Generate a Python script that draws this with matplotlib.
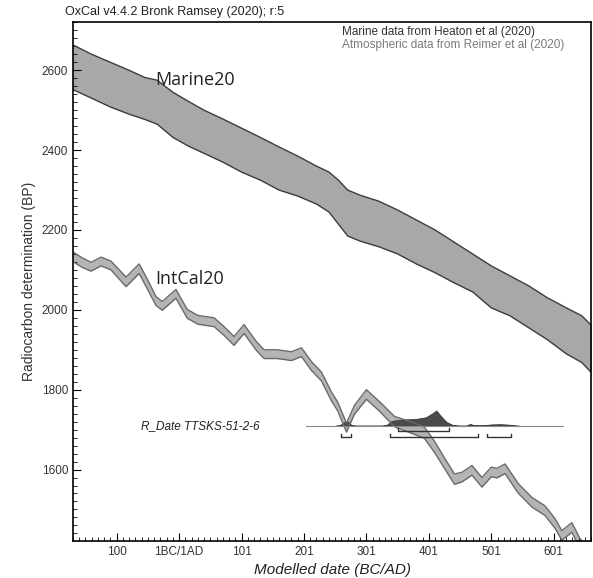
import numpy as np
import matplotlib
matplotlib.use('Agg')
import matplotlib.pyplot as plt
from matplotlib.ticker import MultipleLocator, FixedLocator

plt.rcParams['font.family'] = ['Liberation Sans', 'DejaVu Sans']

# Marine20 envelope (calendar year, BP upper / lower)
marine_year = [-172, -140, -110, -80, -55, -35, -10, 15, 40, 70, 100, 130, 160, 190,
               220, 240, 255, 270, 290, 320, 350, 380, 410, 440, 470, 500, 530, 560,
               590, 620, 645, 662]
marine_hi = [2665, 2640, 2620, 2600, 2582, 2575, 2545, 2522, 2500, 2478, 2455, 2432,
             2408, 2385, 2360, 2345, 2325, 2300, 2287, 2272, 2250, 2225, 2200, 2170,
             2140, 2110, 2085, 2060, 2030, 2005, 1985, 1958]
marine_lo = [2553, 2530, 2508, 2490, 2477, 2465, 2432, 2410, 2392, 2370, 2345, 2325,
             2300, 2285, 2265, 2245, 2215, 2185, 2172, 2158, 2140, 2115, 2093, 2068,
             2045, 2005, 1985, 1955, 1925, 1890, 1868, 1840]

# IntCal20 curve (calendar year, BP mean, half width)
intcal_year = [-172, -155, -141, -125, -109, -85, -64, -50, -37, -27, -5, 13, 30, 56,
               72, 88, 104, 124, 136, 157, 180, 196, 212, 228, 244, 254, 268, 281,
               300, 321, 345, 372, 393, 409, 425, 441, 453, 469, 485, 500, 509, 522,
               543, 565, 586, 602, 613, 629, 642, 655]
intcal_bp = [2135, 2118, 2108, 2121, 2111, 2070, 2103, 2062, 2022, 2010, 2040, 1990,
             1975, 1969, 1947, 1922, 1952, 1909, 1889, 1889, 1884, 1894, 1859, 1833,
             1783, 1758, 1705, 1750, 1788, 1758, 1720, 1705, 1692, 1657, 1616, 1576,
             1581, 1598, 1568, 1594, 1591, 1602, 1553, 1518, 1497, 1465, 1435, 1455,
             1415, 1390]
intcal_err = [12, 12, 11, 11, 11, 12, 12, 12, 11, 11, 11, 11, 11, 11, 11, 11, 11, 11,
              11, 11, 11, 11, 11, 11, 11, 11, 11, 11, 12, 12, 13, 14, 14, 14, 13, 13,
              12, 12, 12, 12, 12, 12, 12, 12, 12, 12, 12, 12, 12, 12]

# modelled date distribution (relative probability)
dist_year = [250, 258, 265, 270, 276, 282, 325, 332, 340, 350, 365, 380, 395, 405,
             412, 420, 428, 438, 448, 460, 466, 472, 485, 500, 515, 530, 545]
dist_p = [0, 0.05, 0.25, 0.28, 0.05, 0, 0, 0.05, 0.3, 0.38, 0.42, 0.45, 0.55, 0.8,
          1.0, 0.6, 0.25, 0.05, 0, 0, 0.12, 0.03, 0.02, 0.08, 0.1, 0.06, 0]
range68 = [(350, 432)]
range95 = [(260, 276), (337, 478), (493, 531)]
rdate_bp = 1710
rdate_span = (204, 615)

xtick_pos = [-100, 0, 100, 200, 300, 400, 500, 600]
xtick_lab = ['100', '1BC/1AD', '101', '201', '301', '401', '501', '601']

fig = plt.figure(figsize=(5.93, 5.78), dpi=100)
ax = fig.add_axes([0.123, 0.064, 0.874, 0.898])

ax.fill_between(marine_year, marine_lo, marine_hi, color='#a8a8a8', lw=0)
ax.plot(marine_year, marine_hi, color='#3c3c3c', lw=1)
ax.plot(marine_year, marine_lo, color='#3c3c3c', lw=1)

ic = np.array(intcal_bp)
ie = np.array(intcal_err)
ax.fill_between(intcal_year, ic - ie, ic + ie, color='#b4b4b4', lw=0)
ax.plot(intcal_year, ic + ie, color='#6a6a6a', lw=1)
ax.plot(intcal_year, ic - ie, color='#6a6a6a', lw=1)

# R_Date
ax.plot(rdate_span, [rdate_bp, rdate_bp], color='#8a8a8a', lw=0.8)
h = 38
ax.fill_between(dist_year, rdate_bp, rdate_bp + h * np.array(dist_p),
                color='#4a4a4a', lw=0.5, edgecolor='#333333')
for rows, off in ((range68, 13), (range95, 28)):
    y = rdate_bp - off
    for a, b in rows:
        ax.plot([a, a, b, b], [y + 7, y, y, y + 7], color='#333333', lw=1)
ax.text(128, rdate_bp, 'R_Date TTSKS-51-2-6', style='italic', fontsize=8.5,
        ha='right', va='center', color='#222222')

ax.text(-38, 2575, 'Marine20', family=['Open Sans', 'DejaVu Sans'], fontsize=13,
        va='center', color='#222222')
ax.text(-38, 2078, 'IntCal20', family=['Open Sans', 'DejaVu Sans'], fontsize=13,
        va='center', color='#222222')

ax.set_xlim(-170, 660)
ax.set_ylim(1421, 2721)
ax.xaxis.set_major_locator(FixedLocator(xtick_pos))
ax.set_xticklabels(xtick_lab)
ax.xaxis.set_minor_locator(MultipleLocator(10))
ax.yaxis.set_major_locator(MultipleLocator(200))
ax.yaxis.set_minor_locator(MultipleLocator(20))
ax.tick_params(which='both', direction='in', labelsize=8.5, labelcolor='#333333')
ax.tick_params(which='major', length=6)
ax.tick_params(which='minor', length=3)
for s in ax.spines.values():
    s.set_linewidth(1.2)
ax.set_xlabel('Modelled date (BC/AD)', style='italic', fontsize=11, color='#222222')
ax.set_ylabel('Radiocarbon determination (BP)', fontsize=10, color='#333333')

fig.text(0.11, 0.979, 'OxCal v4.4.2 Bronk Ramsey (2020); r:5', fontsize=9,
         va='center', color='#222222')
ax.text(0.52, 0.992, 'Marine data from Heaton et al (2020)', transform=ax.transAxes,
        fontsize=8.5, va='top', color='#333333')
ax.text(0.52, 0.968, 'Atmospheric data from Reimer et al (2020)', transform=ax.transAxes,
        fontsize=8.5, va='top', color='#7a7a7a')

fig.savefig('out.png', dpi=100)
